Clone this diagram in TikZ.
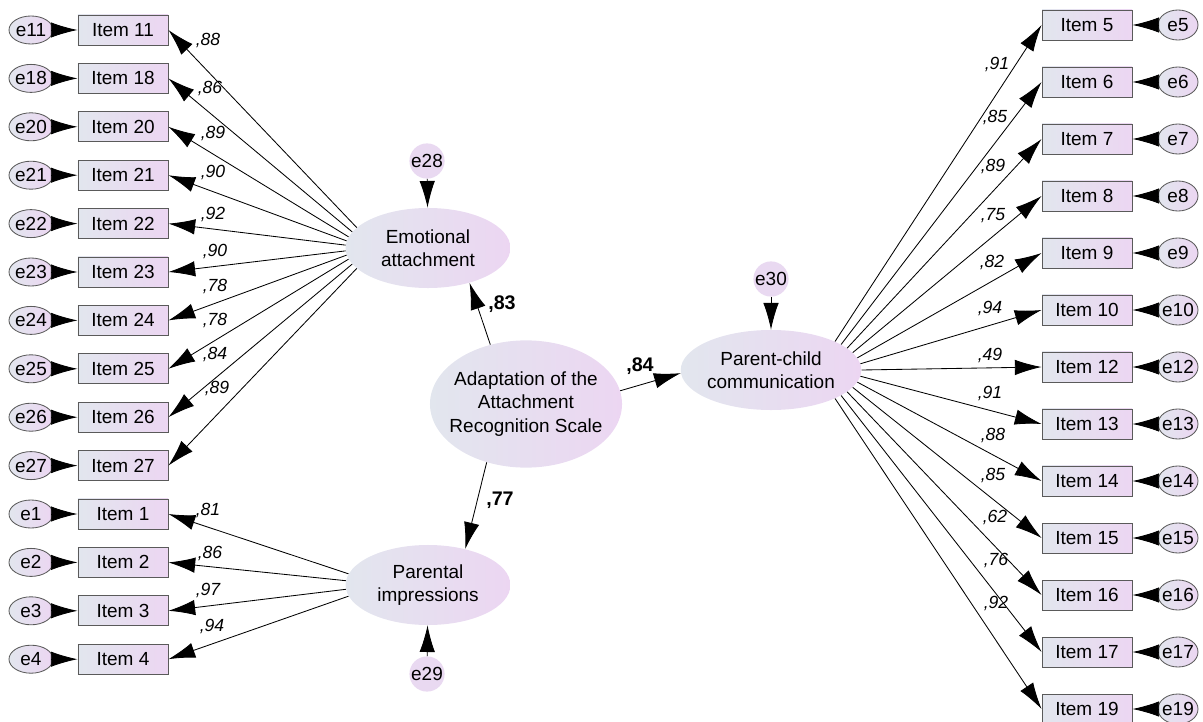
\documentclass[tikz,border=0pt]{standalone}
\usepackage{fontspec}
\setmainfont{Liberation Sans}
\usetikzlibrary{arrows.meta, shapes.geometric}

\definecolor{boxleft}{HTML}{E2E6EE}
\definecolor{boxright}{HTML}{ECD6F2}
\definecolor{errfill}{HTML}{E9D9F1}
\definecolor{framegray}{HTML}{5A5A5A}

\begin{document}
\begin{tikzpicture}[
			x=0.025cm, y=-0.025cm,
			every node/.style={font=\fontsize{13.5}{16.5}\selectfont},
			item/.style={
				rectangle, draw=framegray, line width=0.6pt,
				left color=boxleft, right color=boxright,
				minimum width=2.25cm, minimum height=0.75cm, inner sep=0pt
			},
			err/.style={
				ellipse, draw=framegray, line width=0.6pt,
				left color=boxleft, right color=boxright,
				minimum width=1.1cm, minimum height=0.7cm, inner xsep=-3pt, inner ysep=0pt
			},
			resid/.style={circle, fill=errfill, minimum size=0.88cm, inner sep=0pt},
			latent/.style={
				ellipse, left color=boxleft, right color=boxright,
				align=center, minimum width=4.12cm, minimum height=2cm, inner sep=0pt
			},
			loading/.style={font=\fontsize{12.5}{14}\selectfont\itshape, inner sep=1pt},
			coef/.style={font=\fontsize{14}{16}\selectfont\bfseries, inner sep=1pt},
			arrow/.style={
				-{Latex[length=19pt,width=11pt]},
				line width=0.6pt
			}
			]
			
			\useasboundingbox (0,0) rectangle (1203,722);
			
			% latent variables
			\node[latent] (emo) at (428,248) {Emotional\\attachment};
			\node[latent] (par) at (428,585) {Parental\\impressions};
			\node[latent, minimum width=4.08cm] (pcc) at (771,370) {Parent-child\\communication};
			\node[latent, minimum width=4.8cm, minimum height=3.18cm,
				label={[align=center]center:Adaptation of the\\Attachment\\Recognition Scale}] (adapt) at (526,404) {};
			
			% residuals
			\node[resid] (e28) at (427,161) {e28};
			\node[resid] (e29) at (427,674) {e29};
			\node[resid] (e30) at (771,279) {e30};
			\draw[arrow] (e28) -- (emo);
			\draw[arrow] (e29) -- (par);
			\draw[arrow] (e30) -- (pcc);
			
			% structural paths
			\draw[arrow] (adapt.121) -- (emo.-40);
			\draw[arrow] (adapt.236) -- (par.44);
			\draw[arrow] (adapt.8) -- (pcc.182);
			\node[coef] (c83) at (502,304) {,83};
			\node[coef] (c84) at (640,366) {,84};
			\node[coef] (c77) at (500,500) {,77};
			
			% emotional attachment items
			\foreach \n/\y/\v/\lx/\ly/\a in {11/30/88/208/40/164, 18/78.4/86/210/88/168,
				20/126.8/89/213/133/172, 21/175.2/90/213/172/175, 22/223.6/92/213/214/178,
				23/272/90/215/251/182, 24/320.4/78/215/286/185, 25/368.8/78/215/320/188,
				26/417.2/84/215/354/192, 27/465.6/89/217/388/196}{
				\node[item] (i\n) at (123,\y) {Item \n};
				\node[err] (e\n) at (31,\y) {e\n};
				\draw[arrow] (e\n) -- (i\n);
				\draw[arrow] (emo.\a) -- (i\n.east);
				\node[loading] (l\n) at (\lx,\ly) {,\v};
			}
			
			% parental impressions items
			\foreach \n/\y/\v/\lx/\ly/\a in {1/514/81/208/510/172, 2/562.4/86/210/553/177,
				3/610.8/97/208/590/183, 4/659.2/94/212/626/188}{
				\node[item] (i\n) at (123,\y) {Item \n};
				\node[err] (e\n) at (31,\y) {e\n};
				\draw[arrow] (e\n) -- (i\n);
				\draw[arrow] (par.\a) -- (i\n.east);
				\node[loading] (l\n) at (\lx,\ly) {,\v};
			}
			
			% parent-child communication items
			\foreach \n/\y/\v/\lx/\ly/\a in {5/25/91/997/64/24, 6/82/85/995/117/20,
				7/139/89/993/166/16, 8/196/75/993/216/12, 9/253/82/992/262/8,
				10/310/94/990/308/4, 12/367/49/990/355/0, 13/424/91/990/393/-4,
				14/481/88/993/435/-8, 15/538/85/993/475/-12, 16/595/62/995/517/-16,
				17/652/76/996/560/-20, 19/709/92/996/603/-24}{
				\node[item] (i\n) at (1087,\y) {Item \n};
				\node[err, minimum width=1cm, minimum height=0.75cm] (e\n) at (1178,\y) {e\n};
				\draw[arrow] (e\n) -- (i\n);
				\draw[arrow] (pcc.\a) -- (i\n.west);
				\node[loading] (l\n) at (\lx,\ly) {,\v};
			}
			
		\end{tikzpicture}
\end{document}
